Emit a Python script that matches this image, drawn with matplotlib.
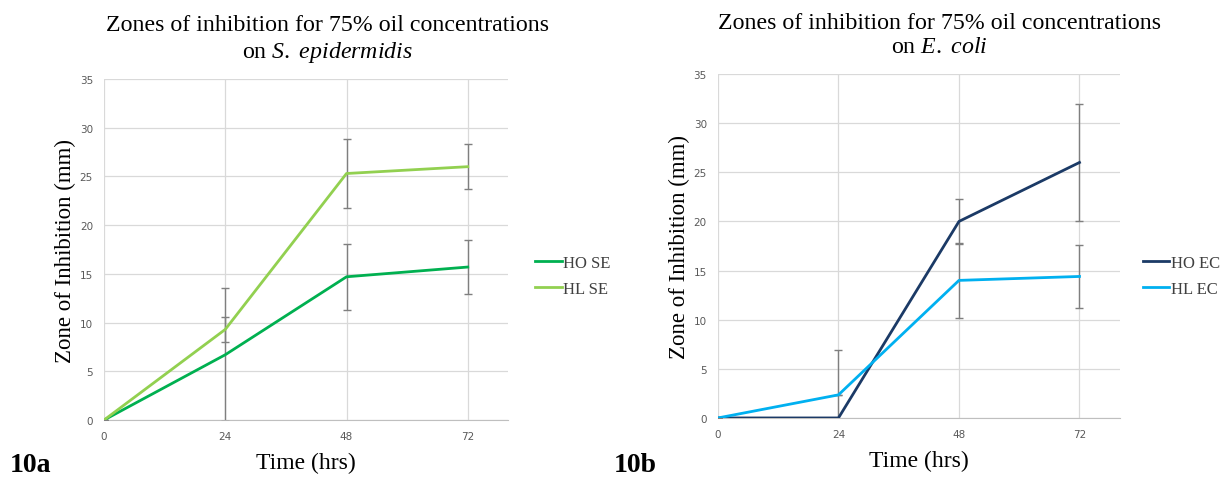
import matplotlib
matplotlib.use("Agg")
import matplotlib.pyplot as plt

plt.rcParams["mathtext.fontset"] = "custom"
plt.rcParams["mathtext.it"] = "Liberation Serif:italic"
plt.rcParams["mathtext.rm"] = "Liberation Serif"

time_hrs = [0, 24, 48, 72]
x_ticks = [0, 24, 48, 72]
y_ticks = [0, 5, 10, 15, 20, 25, 30, 35]

ho_se = [0, 6.7, 14.7, 15.7]
ho_se_err = [0, 6.8, 3.4, 2.8]
hl_se = [0, 9.3, 25.3, 26.0]
hl_se_err = [0, 1.3, 3.5, 2.3]

ho_ec = [0, 0, 20.0, 26.0]
ho_ec_err = [0, 6.9, 2.25, 6.0]
hl_ec = [0, 2.35, 14.0, 14.4]
hl_ec_err = [0, 0, 3.8, 3.25]

serif = "Liberation Serif"

fig = plt.figure(figsize=(12.21, 4.81), dpi=100)
axL = fig.add_axes([0.0852, 0.1247, 0.331, 0.709])
axR = fig.add_axes([0.588, 0.129, 0.329, 0.715])


def style(ax):
    ax.set_xlim(0, 80)
    ax.set_ylim(0, 35)
    ax.set_xticks(x_ticks)
    ax.set_yticks(y_ticks)
    ax.grid(True, color="#d9d9d9", linewidth=0.9)
    ax.set_axisbelow(True)
    for s in ["top", "right", "left"]:
        ax.spines[s].set_visible(False)
    ax.spines["bottom"].set_color("#bfbfbf")
    ax.tick_params(length=0, labelsize=7.5, colors="#595959", pad=8)
    ax.set_xlabel("Time (hrs)", fontsize=17, fontfamily=serif, labelpad=8)
    ax.set_ylabel("Zone of Inhibition (mm)", fontsize=16.5, fontfamily=serif)
    ax.yaxis.set_label_coords(-0.07, 0.5)


def series(ax, y, err, color, label):
    ax.errorbar(time_hrs, y, yerr=err, color=color, linewidth=2,
                ecolor="#7f7f7f", elinewidth=1, capsize=3, capthick=1,
                label=label, clip_on=True, zorder=3)


style(axL)
series(axL, ho_se, ho_se_err, "#00B050", "HO SE")
series(axL, hl_se, hl_se_err, "#92D050", "HL SE")
axL.set_title("Zones of inhibition for 75% oil concentrations\non $\\it{S.\\ epidermidis}$",
              fontsize=17.2, fontfamily=serif, pad=16, x=0.552)

style(axR)
series(axR, ho_ec, ho_ec_err, "#1B3A66", "HO EC")
series(axR, hl_ec, hl_ec_err, "#00B0F0", "HL EC")
axR.set_title("Zones of inhibition for 75% oil concentrations\non $\\it{E.\\ coli}$",
              fontsize=17.2, fontfamily=serif, pad=16, x=0.552)

for ax, lx, ly in ((axL, 1.03, 0.422), (axR, 1.02, 0.413)):
    h, l = ax.get_legend_handles_labels()
    h = [hh[0] for hh in h]
    leg = ax.legend(h, l, loc="center left", bbox_to_anchor=(lx, ly), frameon=False,
                    prop={"family": serif, "size": 12}, handlelength=1.6,
                    handletextpad=0.08, labelspacing=0.6)
    for t in leg.get_texts():
        t.set_color("#404040")

fig.text(0.008, 0.018, "10a", fontsize=20, fontweight="bold", fontfamily=serif)
fig.text(0.503, 0.018, "10b", fontsize=20, fontweight="bold", fontfamily=serif)

fig.savefig("out.png", dpi=100)
